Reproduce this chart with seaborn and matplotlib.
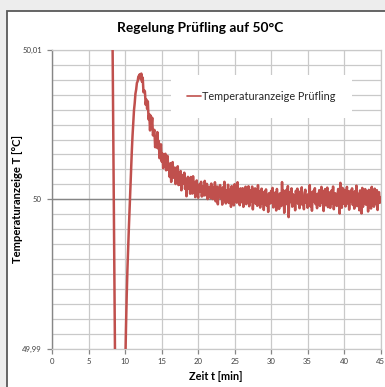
import numpy as np
import pandas as pd
import matplotlib
matplotlib.use('Agg')
import matplotlib.pyplot as plt
from matplotlib.patches import Rectangle
from matplotlib.ticker import MultipleLocator, FixedLocator, FixedFormatter
import seaborn as sns

# ------------------------------------------------------------
# Messwerte: Abweichung von 50 degC in 1e-5 K,
# abgetastet alle 0,1 min ab 8,2 min
# ------------------------------------------------------------
T_START = 8.2
T_STEP = 0.1
SOLLWERT = 50.0

# 8,2 - 9,9 min
abkuehlung = [1440, 810, 190, -440, -1060, -1700, -2300, -2800, -3200, -3500,
              -3700, -3800, -3800, -3650, -3400, -3000, -2400, -1600]

# 10,0 - 11,9 min
anstieg = [-1130, -870, -650, -470, -320, -190, -60, 80, 210, 320,
           425, 505, 596, 644, 708, 735, 779, 790, 822, 828]

# 12,0 - 22,9 min
ueberschwinger = [
    838, 805, 842, 787, 815, 717, 730, 722, 634, 668,
    606, 656, 535, 570, 461, 560, 490, 546, 428, 450,
    465, 349, 418, 347, 450, 341, 391, 275, 323, 368,
    253, 306, 208, 301, 250, 305, 194, 263, 290, 197,
    227, 149, 242, 116, 212, 249, 144, 165, 212, 102,
    190, 133, 221, 95, 144, 97, 189, 60, 144, 163,
    106, 178, 69, 137, 20, 118, 150, 70, 131, 37,
    149, 83, 38, 154, 58, 115, 14, 85, 126, 36,
    10, 88, 102, 52, 117, 18, 67, 86, 25, 123,
    69, 26, 103, 1, 71, 84, 41, 8, 105, 25,
    1, 79, 24, 114, -14, 51, 85, -34, 65, 34,
]

# 23,0 - 45,0 min
regelung = [
    95, 6, 58, -36, 80, 23, 117, -7, -28, 59,
    5, 97, -25, 44, 65, -51, 88, 8, 73, -41,
    101, 17, 56, -23, 114, -12, 40, -40, 73, 7,
    -20, 74, -51, 47, 0, 84, -33, 59, 7, 87,
    -47, 38, 61, -17, 85, -68, 47, 8, 73, -31,
    22, -44, 94, -15, 52, -56, 29, 71, -27, 42,
    -72, 51, -12, 66, -43, 27, -85, 40, 12, -28,
    56, -21, 76, -55, 32, 0, 47, -75, 69, -36,
    23, -65, 39, 17, -46, 115, -26, 59, -91, 44,
    -7, 63, -34, 88, -120, 8, 49, -19, 73, -50,
    34, -41, 18, -74, 57, -16, 71, -31, 27, -60,
    52, -11, 80, -38, 13, -67, 42, 64, -24, 22,
    -57, 35, 0, 95, -48, 46, -77, 17, 56, -17,
    74, -33, 29, -60, 37, -12, 61, -45, -4, 83,
    -23, 54, -79, 22, 68, -40, 10, 78, -53, 30,
    46, -58, 15, 59, -29, 85, -67, 25, 40, -7,
    -45, 23, 69, -21, -96, 110, 18, -57, 76, -31,
    64, -2, -48, 39, 83, -28, 52, -70, 12, 57,
    -16, 73, -38, 27, -63, 54, -9, 91, -46, 20,
    37, -74, 59, -26, -95, 76, -51, 30, -12, 68,
    -36, 13, 51, -82, 63, -19, 44, -62, 83, -6,
    27, -50, 71, -33, 6, 61, -72, 35, 47, -24,
    10,
]

x_ticks = [0, 5, 10, 15, 20, 25, 30, 35, 40, 45]
y_ticks = [49.99, 50.0, 50.01]
y_ticklabels = ['49,99', '50', '50,01']

# ------------------------------------------------------------
# DataFrame
# ------------------------------------------------------------
abweichung = np.concatenate([abkuehlung, anstieg, ueberschwinger, regelung]) * 1e-5
df = pd.DataFrame({
    't': np.round(T_START + T_STEP * np.arange(len(abweichung)), 1),
    'T': SOLLWERT + abweichung,
})

# ------------------------------------------------------------
# Plot
# ------------------------------------------------------------
sns.set_style('white')
plt.rcParams['font.family'] = ['Lato', 'DejaVu Sans']

W, H = 385, 387
fig = plt.figure(figsize=(W / 100, H / 100), dpi=100, facecolor='#EDEDED')
# Diagrammrahmen wie in Excel (hinter den Achsen)
fig.patches.append(Rectangle((7 / W, -0.1), 1.2, 1.1 - 11 / H,
                             transform=fig.transFigure, facecolor='white',
                             edgecolor='#595959', linewidth=1.3, zorder=-10))

ax_l, ax_r, ax_t, ax_b = 52.3, 380.5, 50.0, 348.5
ax = fig.add_axes([ax_l / W, 1 - ax_b / H, (ax_r - ax_l) / W, (ax_b - ax_t) / H])
ax.set_zorder(5)
ax.set_facecolor('white')

sns.lineplot(data=df, x='t', y='T', ax=ax, color='#C0504D', linewidth=1.8,
             estimator=None, label='Temperaturanzeige Prüfling', zorder=3)

ax.set_xlim(x_ticks[0], x_ticks[-1])
ax.set_ylim(y_ticks[0], y_ticks[-1])
ax.xaxis.set_major_locator(FixedLocator(x_ticks))
ax.yaxis.set_major_locator(FixedLocator(y_ticks))
ax.yaxis.set_major_formatter(FixedFormatter(y_ticklabels))
ax.yaxis.set_minor_locator(MultipleLocator(0.001))

ax.set_axisbelow(True)
ax.grid(which='both', color='#C9C9C9', linewidth=0.9)
ax.axhline(SOLLWERT, color='#868686', linewidth=1.0, zorder=1)

for side in ['top', 'right', 'bottom']:
    ax.spines[side].set_color('#C9C9C9')
    ax.spines[side].set_linewidth(0.9)
ax.spines['left'].set_color('#868686')
ax.spines['left'].set_linewidth(1.0)

ax.tick_params(axis='both', which='major', labelsize=5.6, labelcolor='#404040',
               color='#868686', length=3.5, width=0.9, direction='out')
ax.tick_params(axis='y', which='major', pad=4, left=True)
ax.tick_params(axis='x', which='major', pad=3.5, bottom=True)
ax.tick_params(axis='y', which='minor', length=0)

ax.set_xlabel('')
ax.set_ylabel('')

leg = ax.legend(loc='center', bbox_to_anchor=(0.637, 0.844), frameon=True,
                fancybox=False, facecolor='white', edgecolor='none',
                framealpha=1.0, fontsize=7.8, handlelength=1.3,
                handletextpad=0.15, borderpad=1.5)
for line in leg.get_lines():
    line.set_linewidth(1.2)

fig.text(200.5 / W, 1 - 27.5 / H, 'Regelung Prüfling auf 50°C',
         ha='center', va='center', fontsize=9.9, fontweight='bold', color='black')
fig.text(18 / W, 1 - 199 / H, 'Temperaturanzeige T [°C]', rotation=90,
         ha='center', va='center', fontsize=8.1, fontweight='bold', color='black')
fig.text(215.5 / W, 1 - 377 / H, 'Zeit t [min]',
         ha='center', va='center', fontsize=7.8, fontweight='bold', color='black')

fig.savefig('out.png', dpi=100, facecolor=fig.get_facecolor())
plt.close(fig)
